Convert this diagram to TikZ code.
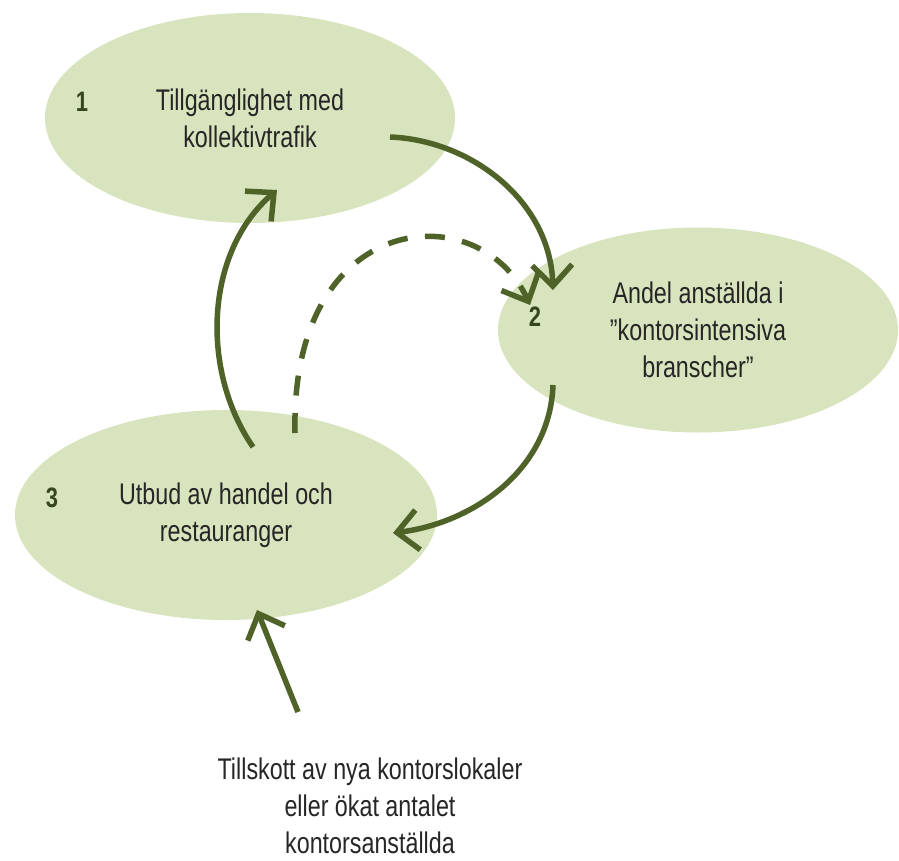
\documentclass[tikz,border=0pt]{standalone}
\usepackage{fontspec}
\setmainfont{Liberation Sans}[FakeStretch=0.78]
\usetikzlibrary{arrows.meta,shapes.geometric}
\definecolor{leaf}{HTML}{D7E4BD}
\definecolor{moss}{HTML}{4F6228}
\definecolor{ink}{HTML}{262626}
\tikzset{
  factor/.style={ellipse, fill=leaf, inner sep=0pt, align=center, text=ink, font=\fontsize{17}{21}\selectfont},
  num/.style={text=moss!70!black, font=\fontsize{16}{18}\selectfont\bfseries},
  link/.style={draw=moss, ->},
}
\begin{document}
\begin{tikzpicture}[>={Straight Barb[length=0.42cm,width=0.8cm]}, line width=0.11cm]
\useasboundingbox (0,0) rectangle (17.98,-17.2);
\node[factor, minimum width=8.2cm, minimum height=4.2cm] (e1) at (5.0,-2.36) {Tillgänglighet med\\kollektivtrafik};
\node[factor, minimum width=8.0cm, minimum height=4.1cm] (e2) at (13.96,-6.6) {Andel anställda i\\”kontorsintensiva\\branscher”};
\node[factor, minimum width=8.44cm, minimum height=4.2cm] (e3) at (4.52,-10.3) {Utbud av handel och\\restauranger};
\node[num] (n1) at (1.64,-2.04) {1};
\node[num] (n2) at (10.7,-6.34) {2};
\node[num] (n3) at (1.04,-9.96) {3};
\node[inner sep=0pt, align=center, text=ink, font=\fontsize{17}{21}\selectfont] (inflow) at (7.4,-16.12) {Tillskott av nya kontorslokaler\\eller ökat antalet\\kontorsanställda};
\coordinate (src) at (5.96,-14.24);
\draw[link] ([shift={(2.8,-0.38)}]e1.center) .. controls +(1.6,-0.06) and +(-0.06,1.8) .. ([shift={(-2.9,0.8)}]e2.center);
\draw[link, dash pattern=on 0.4cm off 0.35cm] ([shift={(1.38,1.64)}]e3.center) .. controls +(-0.1,4.5) and +(-1.0,2.2) .. ([shift={(-3.36,0.5)}]e2.center);
\draw[link] ([shift={(0.54,1.36)}]e3.center) .. controls +(-1.06,1.54) and +(-1.44,-1.24) .. ([shift={(0.54,-1.44)}]e1.center);
\draw[link] ([shift={(-2.9,-1.1)}]e2.center) .. controls +(-0.06,-1.7) and +(1.6,0.2) .. ([shift={(3.34,-0.36)}]e3.center);
\draw[link] (src) -- ([shift={(0.62,-1.9)}]e3.center);
\end{tikzpicture}
\end{document}
